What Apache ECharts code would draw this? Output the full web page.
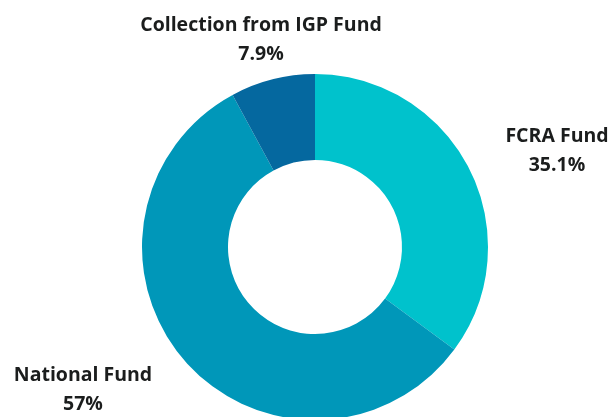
<!DOCTYPE html>
<html>
<head>
<meta charset="utf-8">
<script src="https://cdn.jsdelivr.net/npm/echarts@6/dist/echarts.min.js"></script>
<style>
  html, body { margin: 0; padding: 0; background: #ffffff; }
  #chart { width: 611px; height: 417px; }
</style>
</head>
<body>
<div id="chart"></div>
<script>
// Fund shares, clockwise from 12 o'clock
const fundNames = ['FCRA Fund', 'National Fund', 'Collection from IGP Fund'];
const fundShares = [35.1, 57, 7.9];
const fundLabels = ['35.1%', '57%', '7.9%'];

const sliceColors = ['#00C2CC', '#0097B9', '#05689F'];

// label anchor points (centre of each two-line label)
const labelSpots = [[557, 151], [83, 390], [261, 40]];

const chart = echarts.init(document.getElementById('chart'));

chart.setOption({
	animation: false,
	series: [{
		type: 'pie',
		center: [315, 247],
		radius: [87, 173],
		startAngle: 90,
		clockwise: true,
		avoidLabelOverlap: false,
		itemStyle: { borderWidth: 0 },
		label: {
			show: true,
			position: 'outside',
			formatter: p => p.name + '\n' + fundLabels[p.dataIndex],
			fontFamily: '"Open Sans", "Noto Sans", sans-serif',
			fontWeight: 'bold',
			fontSize: 19.5,
			lineHeight: 29,
			color: '#1b1d1d',
			align: 'center'
		},
		labelLine: { show: false },
		labelLayout: params => ({
			x: labelSpots[params.dataIndex][0],
			y: labelSpots[params.dataIndex][1],
			align: 'center',
			verticalAlign: 'middle'
		}),
		emphasis: { disabled: true },
		data: fundNames.map((name, i) => ({
			name: name,
			value: fundShares[i],
			itemStyle: { color: sliceColors[i] }
		}))
	}]
});
</script>
</body>
</html>
